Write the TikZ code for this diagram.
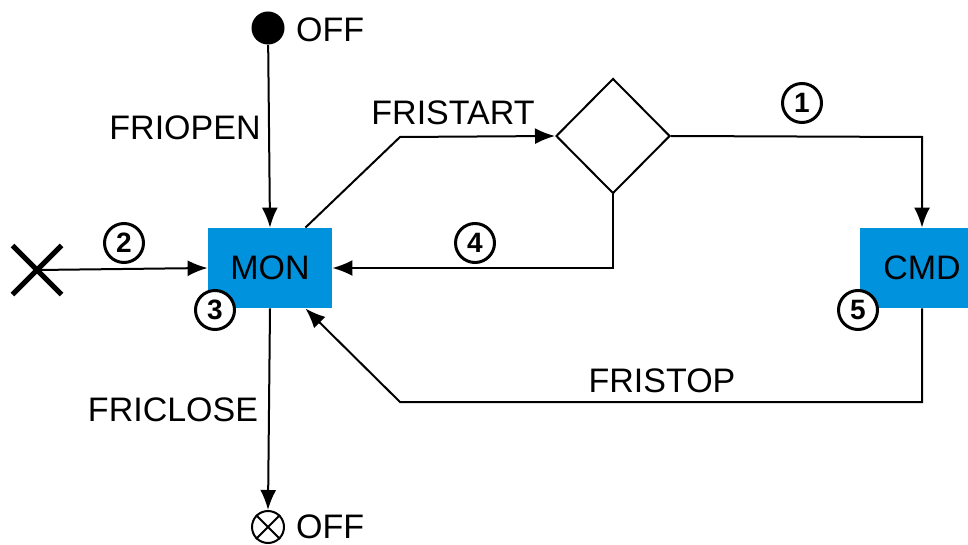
\documentclass[tikz,border=0pt]{standalone}
\usepackage{fontspec}
\setmainfont{Liberation Sans}
\usetikzlibrary{arrows.meta,shapes.geometric,shapes.misc}
\definecolor{stateblue}{RGB}{0,146,221}
\tikzset{
  state/.style={fill=stateblue,minimum width=62pt,minimum height=40pt,
    inner sep=0pt,font=\fontsize{17}{20}\selectfont},
  num/.style={circle,draw,line width=1.5pt,fill=white,minimum size=19.5pt,
    inner sep=0pt,font=\fontsize{14}{14}\selectfont\bfseries},
  lbl/.style={font=\fontsize{17}{20}\selectfont},
  flow/.style={line width=1pt,-{Latex[length=10pt,width=8pt]}},
}
\begin{document}
\begin{tikzpicture}[x=0.5pt,y=-0.5pt]
\useasboundingbox (0,0) rectangle (968,545);
% states
\node[state] (mon) at (270,268) {MON};
\node[state] (cmd) at (922,268) {CMD};
\node[diamond,draw,line width=1pt,minimum width=57pt,minimum height=57.5pt,
  inner sep=0pt] (choice) at (613,136) {};
% start / end
\node[circle,fill,minimum size=16.5pt,inner sep=0pt] (start) at (268,28) {};
\node[lbl,anchor=west] (offtop) at (289,30) {OFF};
\node[circle,draw,line width=1pt,minimum size=16pt,inner sep=0pt] (stop) at (268,527) {};
\draw[line width=1pt] (stop.north west) -- (stop.south east)
  (stop.north east) -- (stop.south west);
\node[lbl,anchor=west] (offbot) at (289,527) {OFF};
\node[cross out,draw,line width=2.5pt,minimum size=22pt,inner sep=0pt] (entry) at (37,270) {};
% bends
\coordinate (b1) at (400,137);
\coordinate (b2) at (922,137);
\coordinate (b3) at (613,268);
\coordinate (b4) at (922,402);
\coordinate (b5) at (400,402);
% connectors
\draw[flow] (start) -- (mon.north);
\node[lbl] (friopen) at (185,128) {FRIOPEN};
\draw[flow] (entry.center) -- (mon.west);
\draw[flow] ([xshift=-13.5pt]mon.north east) -- (b1) -- (choice.west);
\node[lbl] (fristart) at (453,113) {FRISTART};
\draw[flow] (choice.east) -- (b2) -- (cmd.north);
\draw[flow] (choice.south) -- (b3) -- (mon.east);
\draw[flow] (cmd.south) -- (b4) -- (b5) -- ([xshift=-13.5pt]mon.south east);
\node[lbl] (fristop) at (662,381) {FRISTOP};
\draw[flow] (mon.south) -- (stop.north);
\node[lbl] (friclose) at (173,410) {FRICLOSE};
% numbers
\node[num] (n1) at (802,103) {1};
\node[num] (n2) at (124,243) {2};
\node[num] (n3) at (215,310) {3};
\node[num] (n4) at (475,243) {4};
\node[num] (n5) at (858,310) {5};
\end{tikzpicture}
\end{document}
